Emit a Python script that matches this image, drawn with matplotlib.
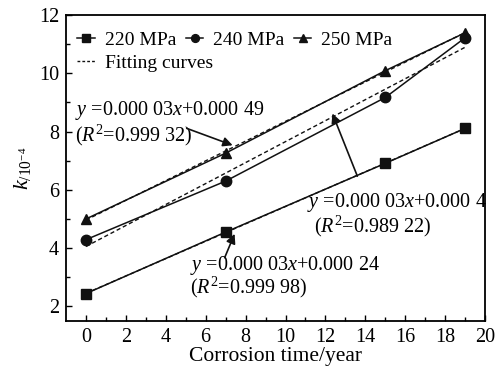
import matplotlib
matplotlib.use("Agg")
import matplotlib.pyplot as plt
import numpy as np
from matplotlib.lines import Line2D

plt.rcParams["font.family"] = ["Liberation Serif", "DejaVu Serif"]
plt.rcParams["mathtext.fontset"] = "custom"
plt.rcParams["mathtext.rm"] = "Liberation Serif"
plt.rcParams["mathtext.it"] = "Liberation Serif:italic"
plt.rcParams["font.size"] = 14

# corrosion time (years) and k (x 10^-4) per stress level
years = [0, 7, 15, 19]
k_220 = [2.44, 4.55, 6.91, 8.11]
k_240 = [4.29, 6.30, 9.17, 11.22]
k_250 = [5.00, 7.26, 10.09, 11.39]

series = [
    ("220 MPa", k_220, "s"),
    ("240 MPa", k_240, "o"),
    ("250 MPa", k_250, "^"),
]

fit_labels = [
    ("$y$ =0.000 03$x$+0.000 49", "($R^2$=0.999 32)"),
    ("$y$ =0.000 03$x$+0.000 4", "($R^2$=0.989 22)"),
    ("$y$ =0.000 03$x$+0.000 24", "($R^2$=0.999 98)"),
]

fig = plt.figure(figsize=(4.96, 3.66), dpi=100)
ax = fig.add_axes([0.133, 0.123, 0.845, 0.836])

x = np.array(years, dtype=float)
handles = []
for label, vals, mk in series:
    h, = ax.plot(x, vals, color="#111111", lw=1.1, marker=mk, ms=7.5,
                 label=label)
    handles.append(h)
    # least-squares linear fit over the sampled years
    p = np.polyfit(x, vals, 1)
    ax.plot(x, np.polyval(p, x), color="#111111", lw=1.0,
            linestyle=(0, (3, 2)))

ax.set_xlim(-1, 20)
ax.set_ylim(1.5, 12)
ax.set_xticks(np.arange(0, 21, 2))
ax.set_xticks(np.arange(1, 20, 2), minor=True)
ax.set_yticks(np.arange(2, 13, 2))
ax.set_yticks(np.arange(3, 12, 2), minor=True)
ax.tick_params(which="both", direction="in", top=False, right=False,
               width=1.0, labelsize=14.5, pad=5)
ax.tick_params(which="major", length=4)
ax.tick_params(which="minor", length=3)
for sp in ax.spines.values():
    sp.set_linewidth(1.3)

ax.set_xlabel("Corrosion time/year", fontsize=15.5, labelpad=0)
ax.set_ylabel(r"$k_{\mathrm{/10^{-4}}}$", fontsize=16, labelpad=4)

leg1 = ax.legend(handles=handles, loc="upper left", ncol=3, frameon=False,
                 fontsize=14, handlelength=0.9, handletextpad=0.5,
                 columnspacing=0.5, markerscale=0.75,
                 bbox_to_anchor=(-0.005, 0.99), borderaxespad=0.3)
ax.add_artist(leg1)
fit_handle = Line2D([], [], color="#111111", lw=1.0, linestyle=(0, (2, 1.5)))
ax.legend([fit_handle], ["Fitting curves"], loc="upper left", frameon=False,
          fontsize=14, handlelength=0.9, handletextpad=0.5,
          bbox_to_anchor=(-0.005, 0.915), borderaxespad=0.3)

# equation labels with arrows
text_pos = [
    ((-0.55, 8.72), (-0.55, 7.87)),
    ((11.1, 5.55), (11.45, 4.73)),
    ((5.2, 3.40), (5.2, 2.65)),
]
arrows = [
    ((5.05, 8.11), (7.35, 7.53)),
    ((13.6, 6.47), (12.35, 8.62)),
    ((6.95, 3.67), (7.45, 4.49)),
]
for (eq, r2), (p1, p2), (tail, head) in zip(fit_labels, text_pos, arrows):
    ax.text(p1[0], p1[1], eq, fontsize=14.5, ha="left", va="center")
    ax.text(p2[0], p2[1], r2, fontsize=14.5, ha="left", va="center")
    ax.annotate("", xy=head, xytext=tail,
                arrowprops=dict(arrowstyle="-|>", color="#111111", lw=1.2,
                                mutation_scale=14, shrinkA=0, shrinkB=0))

fig.savefig("out.png", dpi=100)
